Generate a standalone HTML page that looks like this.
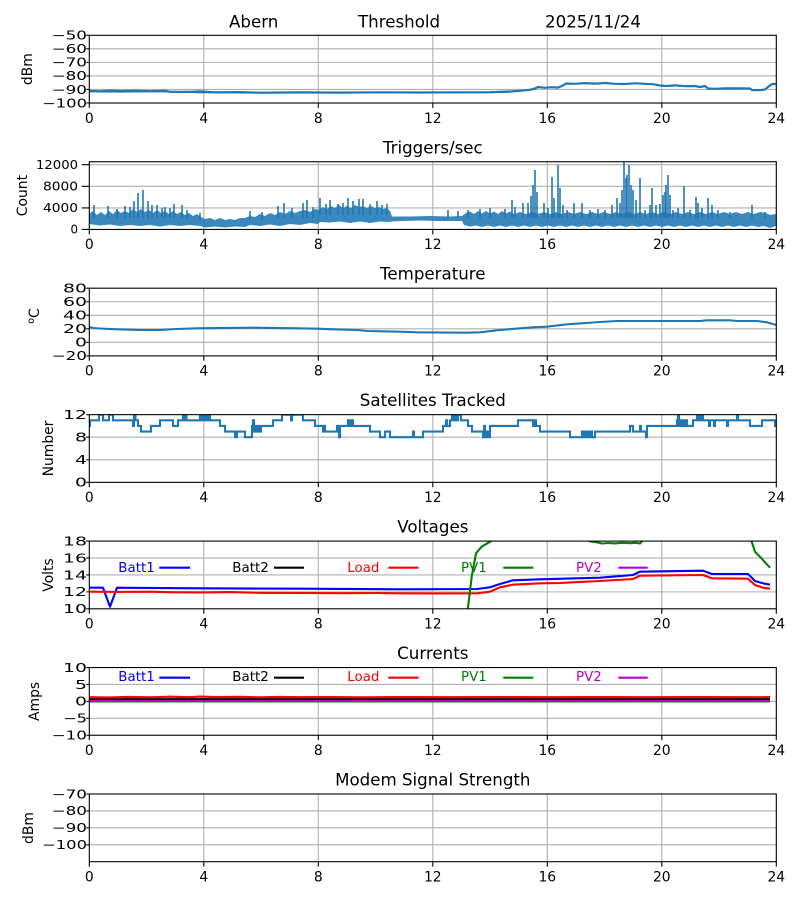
<!DOCTYPE html>
<html><head><meta charset="utf-8"><style>html,body{margin:0;padding:0;background:#fff}svg{display:block}</style></head>
<body>
<svg width="800" height="900" viewBox="0 0 800 900" xmlns="http://www.w3.org/2000/svg" font-family="'DejaVu Sans','Liberation Sans',sans-serif">
<rect width="800" height="900" fill="#fff"/>
<defs>
<g id="vg" stroke="#b0b0b0" stroke-width="1.1">
<path d="M203.8 0V67.7M318.3 0V67.7M432.8 0V67.7M547.3 0V67.7M661.8 0V67.7"/>
</g>
<g id="xt" stroke="#000" stroke-width="1.1">
<path d="M89.3 67.7V72.6M203.8 67.7V72.6M318.3 67.7V72.6M432.8 67.7V72.6M547.3 67.7V72.6M661.8 67.7V72.6M776.3 67.7V72.6"/>
</g>
<clipPath id="c1"><rect x="89.3" y="35.3" width="687" height="67.7"/></clipPath>
<clipPath id="c2"><rect x="89.3" y="161.75" width="687" height="67.7"/></clipPath>
<clipPath id="c3"><rect x="89.3" y="288.2" width="687" height="67.7"/></clipPath>
<clipPath id="c4"><rect x="89.3" y="414.65" width="687" height="67.7"/></clipPath>
<clipPath id="c5"><rect x="89.3" y="541.1" width="687" height="67.7"/></clipPath>
<clipPath id="c6"><rect x="89.3" y="667.55" width="687" height="67.7"/></clipPath>
</defs>

<g font-size="16.67" fill="#000">
<text x="229" y="27.5">Abern</text>
<text x="358" y="27.5">Threshold</text>
<text x="545" y="27.5">2025/11/24</text>
</g>

<!-- ============ Panel 1 ============ -->
<use href="#vg" y="35.3"/>
<path d="M89.3 48.84H776.3M89.3 62.38H776.3M89.3 75.92H776.3M89.3 89.46H776.3" stroke="#b0b0b0" stroke-width="1.1"/>
<g clip-path="url(#c1)" fill="none" stroke="#1f77b4" stroke-width="2.2" stroke-linejoin="round">
<polyline points="89.3,90.8 100,91.3 110,90.5 120,91.1 135,90.7 150,91.2 165,90.7 170,91.8 190,91.9 200,91.4 215,92.3 240,92.1 260,92.7 300,92.4 340,92.6 380,92.3 420,92.5 460,92.3 490,92.2 500,91.8 510,91.5 520,90.8 530,89.8 535,88.5 538,87 545,87.8 552,87.2 558,87.6 563,85.5 566,83.5 575,83.8 585,83.1 595,83.6 605,83 615,83.8 625,84 635,83.3 645,83.8 653,84.2 660,85.5 667,86 675,85.4 685,86.2 695,86 700,87 705,86 708,88.5 715,88.8 725,88.4 740,88.3 750,88.5 752,90 760,90.2 765,89.5 768,87 772,84 776.3,84"/>
<polyline stroke-width="1.2" points="89.3,91.8 120,92 160,91.7 200,92.6 260,93 330,92.9 400,92.8 480,92.8 510,92.3"/>
</g>
<rect x="89.3" y="35.3" width="687" height="67.7" fill="none" stroke="#000" stroke-width="1.1"/>
<use href="#xt" y="35.3"/>
<path d="M86.3 35.3H89.3M86.3 48.84H89.3M86.3 62.38H89.3M86.3 75.92H89.3M86.3 89.46H89.3M86.3 103H89.3" stroke="#000" stroke-width="1.1"/>
<g font-size="12" text-anchor="end">
<text x="87" y="39.6" textLength="35.5" lengthAdjust="spacingAndGlyphs">−50</text>
<text x="87" y="53.1" textLength="35.5" lengthAdjust="spacingAndGlyphs">−60</text>
<text x="87" y="66.7" textLength="35.5" lengthAdjust="spacingAndGlyphs">−70</text>
<text x="87" y="80.2" textLength="35.5" lengthAdjust="spacingAndGlyphs">−80</text>
<text x="87" y="93.8" textLength="35.5" lengthAdjust="spacingAndGlyphs">−90</text>
<text x="87" y="107.3" textLength="45" lengthAdjust="spacingAndGlyphs">−100</text>
</g>
<g font-size="13.9" text-anchor="middle">
<text x="89.3" y="122.8">0</text><text x="203.8" y="122.8">4</text><text x="318.3" y="122.8">8</text><text x="432.8" y="122.8">12</text><text x="547.3" y="122.8">16</text><text x="661.8" y="122.8">20</text><text x="776.3" y="122.8">24</text>
</g>
<text font-size="13.9" transform="translate(32,69.2) rotate(-90)" text-anchor="middle">dBm</text>

<!-- ============ Panel 2 ============ -->
<text x="432.8" y="153.3" font-size="16.67" text-anchor="middle">Triggers/sec</text>
<use href="#vg" y="161.75"/>
<path d="M89.3 164.7H776.3M89.3 186.3H776.3M89.3 207.9H776.3" stroke="#b0b0b0" stroke-width="1.1"/>
<g clip-path="url(#c2)">
<polygon fill="#1f77b4" fill-opacity="0.88" points="89,214 93,211 97,215 101,212 105,215 109,211 113,214 117,210 121,213 125,211 129,213 133,209 137,212 141,209 145,212 149,210 153,213 157,210 161,213 165,211 169,214 173,211 177,214 181,212 185,215 189,213 193,216 197,214 201,217 205,219 210,218 215,220 220,218 225,220 230,219 235,220 240,218 245,218 250,216 255,217 260,214 265,216 270,213 275,215 280,212 285,214 290,211 295,213 300,211 305,210 310,212 315,209 319,210 323,207 327,209 331,206 335,208 339,205 343,208 347,206 351,208 355,205 359,207 363,206 367,208 371,206 375,208 379,207 383,209 387,208 390,211 392,216.5 410,216.5 430,216 450,216.5 462,216 466,213 470,211.5 474,214 478,211 482,213.5 486,211 490,213.5 494,211.5 498,214 502,211 506,213.5 510,211.5 514,214 520,212 526,214 532,212 538,214 544,212 550,214 556,212 562,214 568,212 574,214 580,212 586,214 592,212 598,214 604,212 610,214 616,212 622,214 628,212 634,214 640,212 646,214 652,212 658,214 664,212 670,214 676,212 682,214 688,212 694,214 700,212 706,214 712,212 718,214 724,212 730,214 736,212 742,214 748,212 754,214 760,212 766,213 770,215 776,214 776,226 770,228 764,226 758,227 752,225.5 746,227 740,225.5 734,227 728,225.5 722,227 716,225.5 710,227 704,225.5 698,227 692,225.5 686,227 680,225.5 674,227 668,225.5 662,227 656,225.5 650,227 644,225.5 638,227 632,225.5 626,227 620,225.5 614,227 608,225.5 602,227 596,225.5 590,227 584,225.5 578,227 572,225.5 566,227 560,225.5 554,227 548,225.5 542,227 536,225.5 530,227 524,225.5 518,227 512,225.5 506,227 500,225.5 494,227 488,225.5 482,227 476,225.5 470,226.5 464,225 462,221 440,221 420,220.5 400,221 392,221.5 388,222 380,221.5 370,223 360,221.5 350,223 340,221.5 330,222.5 320,222 318,224 310,223 300,225 290,224 280,226 270,224.5 260,226 250,225 245,227 235,226.5 225,227.5 215,226.5 205,227.5 200,226 190,225 180,226 170,225 160,226.5 150,225 140,226 130,225 120,226 110,224.5 100,225.5 89,224"/>
<path fill="none" stroke="#1f77b4" stroke-width="1.6" stroke-linejoin="round" d="M94 218V205M108 218V206M117 218V209M125 218V206M130 218V207M134 218V201M138 218V193M143 218V190M148 218V201M152 218V205M157 218V205M162 218V208M165 218V207M170 218V208M174 218V204M182 218V205M187 218V210M200 220V213M250 220V211M262 220V212M278 218V206M284 218V203M292 218V208M303 218V203M307 218V200M313 218V207M320 215V198M326 215V204M330 215V200M338 215V204M343 215V203M348 215V198M353 215V201M359 215V199M363 215V199M370 215V204M377 215V201M382 215V205M387 215V204M448 218V210M458 218V211M468 218V210M480 218V209M490 218V208M505 218V209M512 218V200M515 218V207M523 218V203M528 218V203M531 218V196M533 218V185M535 218V170M537 218V192M544 218V203M548 218V208M552 218V177M554 218V198M558 218V165M560 218V188M563 218V205M567 218V210M574 218V203M582 218V203M590 218V210M598 218V209M605 218V210M612 218V205M617 218V198M620 218V203M622 218V190M624 218V161M626 218V178M627 218V175M629 218V165M631 218V185M633 218V190M636 218V200M640 218V178M645 218V210M650 218V205M652 218V188M656 218V205M660 218V204M663 218V195M665 218V192M666 218V185M668 218V175M670 218V195M673 218V210M678 218V208M684 218V186M690 218V210M696 218V197M698 218V203M702 218V208M708 218V198M712 218V205M718 218V210M730 218V212M752 218V205M765 218V212"/>
</g>
<rect x="89.3" y="161.75" width="687" height="67.7" fill="none" stroke="#000" stroke-width="1.1"/>
<use href="#xt" y="161.75"/>
<path d="M81.7 164.7H89.3M81.7 186.3H89.3M81.7 207.9H89.3M81.7 229.45H89.3" stroke="#000" stroke-width="1.1"/>
<g font-size="12" text-anchor="end">
<text x="78" y="169" textLength="42" lengthAdjust="spacingAndGlyphs">12000</text>
<text x="78" y="190.6" textLength="35" lengthAdjust="spacingAndGlyphs">8000</text>
<text x="78" y="212.2" textLength="35" lengthAdjust="spacingAndGlyphs">4000</text>
<text x="78" y="233.7" textLength="7.5" lengthAdjust="spacingAndGlyphs">0</text>
</g>
<g font-size="13.9" text-anchor="middle">
<text x="89.3" y="249.2">0</text><text x="203.8" y="249.2">4</text><text x="318.3" y="249.2">8</text><text x="432.8" y="249.2">12</text><text x="547.3" y="249.2">16</text><text x="661.8" y="249.2">20</text><text x="776.3" y="249.2">24</text>
</g>
<text font-size="13.9" transform="translate(27,195.6) rotate(-90)" text-anchor="middle">Count</text>

<!-- ============ Panel 3 ============ -->
<text x="432.8" y="279.7" font-size="16.67" text-anchor="middle">Temperature</text>
<use href="#vg" y="288.2"/>
<path d="M89.3 301.74H776.3M89.3 315.28H776.3M89.3 328.82H776.3M89.3 342.36H776.3" stroke="#b0b0b0" stroke-width="1.1"/>
<g clip-path="url(#c3)">
<polyline fill="none" stroke="#1f77b4" stroke-width="2.1" stroke-linejoin="round" points="89.3,326.7 93,328 100,328.5 117,329.3 140,330 160,330 177,329 197,328.3 253,327.7 297,328.3 317,328.7 333,329.3 357,330 367,331 400,331.7 417,332.3 467,332.7 480,332.3 500,330 533,327.3 547,326.7 567,324.3 600,322 617,321 700,321 707,320.3 730,320.3 737,321 757,321 767,322.3 776.3,325"/>
</g>
<rect x="89.3" y="288.2" width="687" height="67.7" fill="none" stroke="#000" stroke-width="1.1"/>
<use href="#xt" y="288.2"/>
<path d="M86.3 288.2H89.3M86.3 301.74H89.3M86.3 315.28H89.3M86.3 328.82H89.3M86.3 342.36H89.3M86.3 355.9H89.3" stroke="#000" stroke-width="1.1"/>
<g font-size="12" text-anchor="end">
<text x="87" y="292.5" textLength="24" lengthAdjust="spacingAndGlyphs">80</text>
<text x="87" y="306" textLength="24" lengthAdjust="spacingAndGlyphs">60</text>
<text x="87" y="319.6" textLength="24" lengthAdjust="spacingAndGlyphs">40</text>
<text x="87" y="333.1" textLength="24" lengthAdjust="spacingAndGlyphs">20</text>
<text x="87" y="346.7" textLength="12" lengthAdjust="spacingAndGlyphs">0</text>
<text x="87" y="360.2" textLength="35.5" lengthAdjust="spacingAndGlyphs">−20</text>
</g>
<g font-size="13.9" text-anchor="middle">
<text x="89.3" y="375.7">0</text><text x="203.8" y="375.7">4</text><text x="318.3" y="375.7">8</text><text x="432.8" y="375.7">12</text><text x="547.3" y="375.7">16</text><text x="661.8" y="375.7">20</text><text x="776.3" y="375.7">24</text>
</g>
<text font-size="13.9" transform="translate(39,316) rotate(-90)" text-anchor="middle"><tspan font-size="9.5" dy="-5">o</tspan><tspan dy="5">C</tspan></text>

<!-- ============ Panel 4 ============ -->
<text x="432.8" y="406.2" font-size="16.67" text-anchor="middle">Satellites Tracked</text>
<use href="#vg" y="414.65"/>
<path d="M89.3 437.22H776.3M89.3 459.78H776.3" stroke="#b0b0b0" stroke-width="1.1"/>
<g clip-path="url(#c4)">
<path fill="none" stroke="#1f77b4" stroke-width="2.1" d="M89.3 425.9H90V420.3H99V414.65H103V420.3H109V414.65H113V420.3H133V425.9H134V414.65H135.5V420.3H138V425.9H141V431.6H151V425.9H160V420.3H173V425.9H178V420.3H183V414.65H184V420.3H185.5V414.65H186.5V420.3H200V414.65H201V420.3H203V414.65H204V420.3H205V414.65H206V420.3H207V414.65H208V420.3H209V414.65H210V420.3H220V425.9H225V431.6H235V437.2H237V431.6H245V437.2H252V425.9H253V420.3H254V431.6H255V425.9H256V431.6H257V425.9H258V431.6H259V425.9H260V431.6H261V425.9H273V420.3H282V414.65H291V420.3H292V414.65H303V420.3H315V425.9H323V431.6H324V425.9H325V431.6H337V425.9H339V437.2H340V425.9H348V420.3H350V425.9H351V420.3H353V425.9H370V431.6H380V437.2H385V431.6H390V437.2H413V431.6H414V437.2H423V431.6H443V425.9H446V420.3H447V425.9H450V420.3H452V414.65H453V420.3H455V414.65H457V420.3H458V414.65H461V420.3H468V425.9H472V431.6H483V437.2H484V425.9H485V437.2H486V431.6H488V437.2H490V425.9H518V420.3H533V425.9H535V420.3H536V425.9H540V431.6H570V437.2H582V431.6H583V437.2H585V431.6H586V437.2H588V431.6H589V437.2H591V431.6H592V437.2H595V431.6H630V425.9H633V431.6H640V425.9H641V431.6H646V437.2H647V425.9H677V420.3H678V414.65H679V425.9H681V420.3H683V425.9H685V420.3H687V425.9H693V420.3H697V414.65H698V420.3H699V414.65H701V420.3H702V414.65H703V420.3H709V425.9H710V420.3H714V425.9H715V420.3H727V425.9H728V420.3H737V414.65H738V420.3H750V425.9H762V420.3H775V425.9H776.3"/>
</g>
<rect x="89.3" y="414.65" width="687" height="67.7" fill="none" stroke="#000" stroke-width="1.1"/>
<use href="#xt" y="414.65"/>
<path d="M86.3 414.65H89.3M86.3 437.22H89.3M86.3 459.78H89.3M86.3 482.35H89.3" stroke="#000" stroke-width="1.1"/>
<g font-size="12" text-anchor="end">
<text x="87" y="418.9" textLength="24" lengthAdjust="spacingAndGlyphs">12</text>
<text x="87" y="441.5" textLength="12" lengthAdjust="spacingAndGlyphs">8</text>
<text x="87" y="464.1" textLength="12" lengthAdjust="spacingAndGlyphs">4</text>
<text x="87" y="486.6" textLength="12" lengthAdjust="spacingAndGlyphs">0</text>
</g>
<g font-size="13.9" text-anchor="middle">
<text x="89.3" y="502.1">0</text><text x="203.8" y="502.1">4</text><text x="318.3" y="502.1">8</text><text x="432.8" y="502.1">12</text><text x="547.3" y="502.1">16</text><text x="661.8" y="502.1">20</text><text x="776.3" y="502.1">24</text>
</g>
<text font-size="13.9" transform="translate(53,448.5) rotate(-90)" text-anchor="middle">Number</text>

<!-- ============ Panel 5 ============ -->
<text x="432.8" y="532.6" font-size="16.67" text-anchor="middle">Voltages</text>
<use href="#vg" y="541.1"/>
<path d="M89.3 558.03H776.3M89.3 574.95H776.3M89.3 591.88H776.3" stroke="#b0b0b0" stroke-width="1.1"/>
<g clip-path="url(#c5)" fill="none" stroke-width="2.1" stroke-linejoin="round">
<polyline stroke="#0000ff" points="89.3,587.7 103,587.7 110,606.7 117,587.7 200,588.3 300,588.7 400,589.3 477,589 490,587.3 500,584 513,580.3 540,579.3 600,577.7 633,575 640,571.7 703,570.7 712,574 748,574 755,581 763,583.3 770,584.7"/>
<polyline stroke="#ff0000" points="89.3,591.7 120,591.9 150,591.7 170,592.2 200,592.4 230,592.1 260,592.8 300,592.9 340,593.2 380,593 400,593.3 440,593.4 477,593.3 490,591.7 500,587.3 513,584.7 540,583.3 560,583 575,582.2 600,581 633,579 640,575.7 703,575 712,578.3 748,578.7 755,585 763,587.7 770,588.7"/>
<polyline stroke="#008000" points="467.7,610 471.7,576.7 476,553.3 481.7,546.7 490,541.7 500,536 580,536 590,541.3 597,542.3 602,543.5 608,543 615,543.4 622,542.8 630,543.2 636,542.8 640,543.5 642,541.3 650,536 745,536 751.7,541.7 755,551.7 760,556.7 770,567.7"/>
</g>
<rect x="89.3" y="541.1" width="687" height="67.7" fill="none" stroke="#000" stroke-width="1.1"/>
<use href="#xt" y="541.1"/>
<path d="M86.3 541.1H89.3M86.3 558.03H89.3M86.3 574.95H89.3M86.3 591.88H89.3M86.3 608.8H89.3" stroke="#000" stroke-width="1.1"/>
<g font-size="12" text-anchor="end">
<text x="87" y="545.4" textLength="24" lengthAdjust="spacingAndGlyphs">18</text>
<text x="87" y="562.3" textLength="24" lengthAdjust="spacingAndGlyphs">16</text>
<text x="87" y="579.3" textLength="24" lengthAdjust="spacingAndGlyphs">14</text>
<text x="87" y="596.2" textLength="24" lengthAdjust="spacingAndGlyphs">12</text>
<text x="87" y="613.1" textLength="24" lengthAdjust="spacingAndGlyphs">10</text>
</g>
<g font-size="13.9" text-anchor="middle">
<text x="89.3" y="628.6">0</text><text x="203.8" y="628.6">4</text><text x="318.3" y="628.6">8</text><text x="432.8" y="628.6">12</text><text x="547.3" y="628.6">16</text><text x="661.8" y="628.6">20</text><text x="776.3" y="628.6">24</text>
</g>
<text font-size="13.9" transform="translate(53,575) rotate(-90)" text-anchor="middle">Volts</text>
<g font-size="13.4">
<text x="118.3" y="571.8" fill="#0000ff">Batt1</text>
<text x="232.3" y="571.8" fill="#000000">Batt2</text>
<text x="347.3" y="571.8" fill="#ff0000">Load</text>
<text x="461" y="571.8" fill="#008000">PV1</text>
<text x="576" y="571.8" fill="#bf00bf">PV2</text>
</g>
<g stroke-width="2.1">
<path d="M159.3 567.7H190" stroke="#0000ff"/>
<path d="M274 567.7H304" stroke="#000"/>
<path d="M388.3 567.7H418.5" stroke="#ff0000"/>
<path d="M503.3 567.7H533.3" stroke="#008000"/>
<path d="M618.3 567.7H647.7" stroke="#bf00bf"/>
</g>

<!-- ============ Panel 6 ============ -->
<text x="432.8" y="659" font-size="16.67" text-anchor="middle">Currents</text>
<use href="#vg" y="667.55"/>
<path d="M89.3 684.48H776.3M89.3 701.4H776.3M89.3 718.33H776.3" stroke="#b0b0b0" stroke-width="1.1"/>
<g clip-path="url(#c6)" fill="none" stroke-width="2.1" stroke-linejoin="round">
<path d="M89.3 700.6H770" stroke="#0000ff"/>
<path d="M89.3 699.2H770" stroke="#000"/>
<polyline stroke="#ff0000" points="89.3,697.2 110,697.4 130,696.9 150,697.3 170,696.7 190,697.2 200,696.6 215,697.1 240,696.8 260,697.3 280,696.9 300,697.2 330,697 360,697.3 400,697.1 450,697.2 500,697 550,697.2 600,697.1 650,697.2 700,697 740,697.2 770,697.1"/>
<path d="M89.3 701.5H770" stroke="#008000"/>
<path d="M89.3 700.9H770" stroke="#bf00bf"/>
</g>
<rect x="89.3" y="667.55" width="687" height="67.7" fill="none" stroke="#000" stroke-width="1.1"/>
<use href="#xt" y="667.55"/>
<path d="M86.3 667.55H89.3M86.3 684.48H89.3M86.3 701.4H89.3M86.3 718.33H89.3M86.3 735.25H89.3" stroke="#000" stroke-width="1.1"/>
<g font-size="12" text-anchor="end">
<text x="87" y="671.8" textLength="24" lengthAdjust="spacingAndGlyphs">10</text>
<text x="87" y="688.8" textLength="12" lengthAdjust="spacingAndGlyphs">5</text>
<text x="87" y="705.7" textLength="12" lengthAdjust="spacingAndGlyphs">0</text>
<text x="87" y="722.6" textLength="24" lengthAdjust="spacingAndGlyphs">−5</text>
<text x="87" y="739.5" textLength="35.5" lengthAdjust="spacingAndGlyphs">−10</text>
</g>
<g font-size="13.9" text-anchor="middle">
<text x="89.3" y="755">0</text><text x="203.8" y="755">4</text><text x="318.3" y="755">8</text><text x="432.8" y="755">12</text><text x="547.3" y="755">16</text><text x="661.8" y="755">20</text><text x="776.3" y="755">24</text>
</g>
<text font-size="13.9" transform="translate(39,701.4) rotate(-90)" text-anchor="middle">Amps</text>
<g font-size="13.4">
<text x="118.3" y="680.8" fill="#0000ff">Batt1</text>
<text x="232.3" y="680.8" fill="#000000">Batt2</text>
<text x="347.3" y="680.8" fill="#ff0000">Load</text>
<text x="461" y="680.8" fill="#008000">PV1</text>
<text x="576" y="680.8" fill="#bf00bf">PV2</text>
</g>
<g stroke-width="2.1">
<path d="M159.3 677.7H190" stroke="#0000ff"/>
<path d="M274 677.7H304" stroke="#000"/>
<path d="M388.3 677.7H418.5" stroke="#ff0000"/>
<path d="M503.3 677.7H533.3" stroke="#008000"/>
<path d="M618.3 677.7H647.7" stroke="#bf00bf"/>
</g>

<!-- ============ Panel 7 ============ -->
<text x="432.8" y="785.5" font-size="16.67" text-anchor="middle">Modem Signal Strength</text>
<use href="#vg" y="794"/>
<path d="M89.3 810.93H776.3M89.3 827.85H776.3M89.3 844.78H776.3" stroke="#b0b0b0" stroke-width="1.1"/>
<rect x="89.3" y="794" width="687" height="67.7" fill="none" stroke="#000" stroke-width="1.1"/>
<use href="#xt" y="794"/>
<path d="M86.3 794H89.3M86.3 810.93H89.3M86.3 827.85H89.3M86.3 844.78H89.3" stroke="#000" stroke-width="1.1"/>
<g font-size="12" text-anchor="end">
<text x="87" y="798.3" textLength="35.5" lengthAdjust="spacingAndGlyphs">−70</text>
<text x="87" y="815.2" textLength="35.5" lengthAdjust="spacingAndGlyphs">−80</text>
<text x="87" y="832.2" textLength="35.5" lengthAdjust="spacingAndGlyphs">−90</text>
<text x="87" y="849.1" textLength="45" lengthAdjust="spacingAndGlyphs">−100</text>
</g>
<g font-size="13.9" text-anchor="middle">
<text x="89.3" y="881.5">0</text><text x="203.8" y="881.5">4</text><text x="318.3" y="881.5">8</text><text x="432.8" y="881.5">12</text><text x="547.3" y="881.5">16</text><text x="661.8" y="881.5">20</text><text x="776.3" y="881.5">24</text>
</g>
<text font-size="13.9" transform="translate(33,828) rotate(-90)" text-anchor="middle">dBm</text>
</svg>
</body></html>
